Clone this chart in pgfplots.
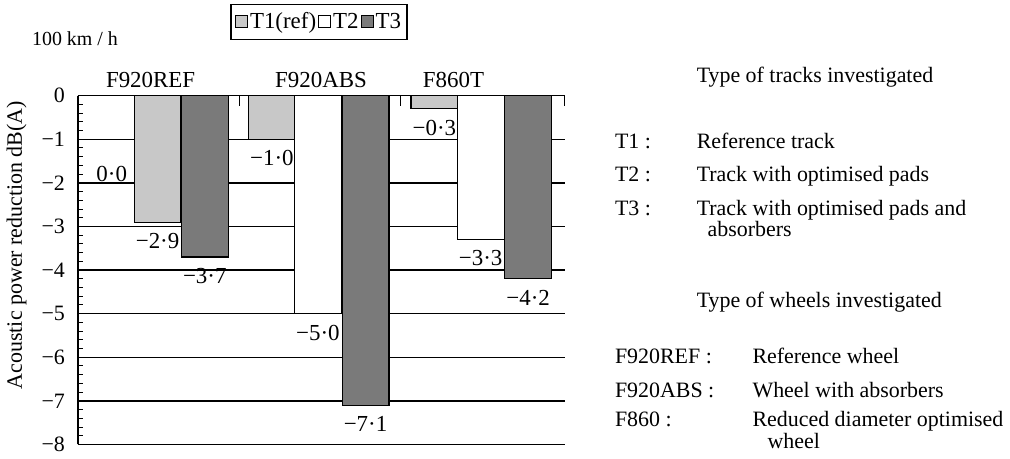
\documentclass[border=0pt]{standalone}
\usepackage{fontspec}
\setmainfont{Liberation Serif}
\usepackage{pgfplots}
\pgfplotsset{compat=1.18}
\definecolor{ltg}{RGB}{200,200,200}
\definecolor{dkg}{RGB}{122,122,122}
\newcommand{\tf}{\fontsize{11}{13}\selectfont}
\newcommand{\lf}{\fontsize{11.5}{13}\selectfont}
\begin{document}
\begin{tikzpicture}
\begin{axis}[
  x=0.5pt, y=21.875pt,
  xmin=78, xmax=566.7, ymin=-8, ymax=0,
  clip=false,
  axis x line*=box, axis y line*=left,
  axis line style={line width=0.75pt},
  xtick={240.5,401.8,566.7}, xticklabels={},
  xtick pos=right,
  xtick align=inside,
  ytick={-8,-7,-6,-5,-4,-3,-2,-1,0},
  yticklabels={−8,−7,−6,−5,−4,−3,−2,−1,0},
  ytick pos=left, ytick align=inside,
  minor y tick num=4,
  major tick length=5pt, minor tick length=2.5pt,
  tick style={black, line width=0.5pt},
  ymajorgrids, grid style={black, line width=0.75pt},
  yticklabel style={font=\tf, xshift=-3pt},
  legend columns=3,
  legend style={at={(0.4952,1.2114)}, anchor=center, draw=black, line width=0.6pt,
    font=\lf, inner xsep=2pt, inner ysep=2pt,
    /tikz/every even column/.append style={column sep=0pt},
    nodes={inner xsep=1pt}},
]
\addplot[ybar, bar shift=0pt, bar width=47, fill=ltg, draw=black, line width=0.6pt,
  nodes near coords, point meta=explicit symbolic,
  every node near coord/.append style={font=\lf, anchor=north, yshift=-2pt},
  legend image code/.code={\draw[fill=ltg,draw=black,line width=0.5pt] (0pt,-3pt) rectangle (6pt,3pt);}]
  coordinates {(158,-2.9) [−2·9] (272.75,-1.0) [−1·0] (435.75,-0.3) [−0·3]};
\addlegendentry{T1(ref)}
\addplot[ybar, bar shift=0pt, bar width=47, fill=white, draw=black, line width=0.6pt,
  nodes near coords, point meta=explicit symbolic,
  every node near coord/.append style={font=\lf, anchor=north, yshift=-2pt},
  legend image code/.code={\draw[fill=white,draw=black,line width=0.5pt] (0pt,-3pt) rectangle (6pt,3pt);}]
  coordinates {(110.6,0) [] (318.85,-5.0) [−5·0] (482.25,-3.3) [−3·3]};
\addlegendentry{T2}
\addplot[ybar, bar shift=0pt, bar width=47, fill=dkg, draw=black, line width=0.6pt,
  nodes near coords, point meta=explicit symbolic,
  every node near coord/.append style={font=\lf, anchor=north, yshift=-2pt},
  legend image code/.code={\draw[fill=dkg,draw=black,line width=0.5pt] (0pt,-3pt) rectangle (6pt,3pt);}]
  coordinates {(205.35,-3.7) [−3·7] (366.7,-7.1) [−7·1] (529.85,-4.2) [−4·2]};
\addlegendentry{T3\hspace{8pt}}

\path (axis cs:0,2.1943) rectangle (axis cs:1010,-8.2057);

\node[font=\lf, anchor=base] at (axis cs:112,-1.966) {0·0};
\node[font=\tf, rotate=90, anchor=center] at (axis cs:16.5,-3.429) {Acoustic power reduction dB(A)};
\node[font=\fontsize{10}{12}\selectfont, anchor=base west] at (axis cs:25,1.143) {100 km / h};
\node[font=\lf, anchor=base] at (axis cs:151,0.194) {F920REF};
\node[font=\lf, anchor=base] at (axis cs:322,0.194) {F920ABS};
\node[font=\lf, anchor=base] at (axis cs:455,0.194) {F860T};

\node[font=\tf, anchor=base west] at (axis cs:692,0.297) {Type of tracks investigated};
\node[font=\tf, anchor=base west] at (axis cs:610,-1.211) {T1 :};
\node[font=\tf, anchor=base west] at (axis cs:692,-1.211) {Reference track};
\node[font=\tf, anchor=base west] at (axis cs:610,-1.966) {T2 :};
\node[font=\tf, anchor=base west] at (axis cs:692,-1.966) {Track with optimised pads};
\node[font=\tf, anchor=base west] at (axis cs:610,-2.743) {T3 :};
\node[font=\tf, anchor=base west] at (axis cs:692,-2.743) {Track with optimised pads and};
\node[font=\tf, anchor=base west] at (axis cs:703,-3.223) {absorbers};
\node[font=\tf, anchor=base west] at (axis cs:692,-4.869) {Type of wheels investigated};
\node[font=\tf, anchor=base west] at (axis cs:610,-6.149) {F920REF :};
\node[font=\tf, anchor=base west] at (axis cs:748,-6.149) {Reference wheel};
\node[font=\tf, anchor=base west] at (axis cs:610,-6.926) {F920ABS :};
\node[font=\tf, anchor=base west] at (axis cs:748,-6.926) {Wheel with absorbers};
\node[font=\tf, anchor=base west] at (axis cs:610,-7.589) {F860 :};
\node[font=\tf, anchor=base west] at (axis cs:748,-7.589) {Reduced diameter optimised};
\node[font=\tf, anchor=base west] at (axis cs:763,-8.091) {wheel};
\end{axis}
\end{tikzpicture}
\end{document}
